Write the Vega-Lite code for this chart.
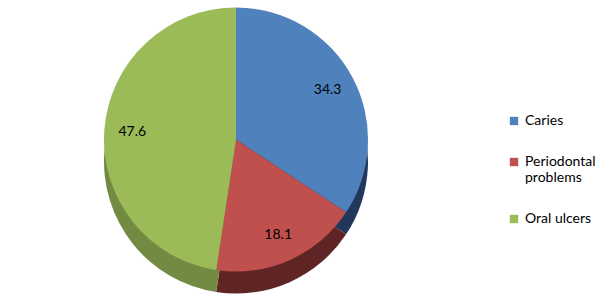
{
  "$schema": "https://vega.github.io/schema/vega-lite/v6.json",
  "width": 472,
  "height": 299,
  "autosize": "none",
  "padding": {"left": 0, "top": 0, "right": 128, "bottom": 0},
  "background": "white",
  "config": {"view": {"stroke": null}, "font": "Lato"},
  "data": {
    "values": [
      {"category": "Caries", "value": 34.3, "order": 1},
      {"category": "Periodontal problems", "value": 18.1, "order": 2},
      {"category": "Oral ulcers", "value": 47.6, "order": 3}
    ]
  },
  "encoding": {
    "theta": {"field": "value", "type": "quantitative", "stack": true},
    "order": {"field": "order", "type": "quantitative"}
  },
  "layer": [
    {
      "mark": {"type": "arc", "radius": 132, "yOffset": 12},
      "encoding": {
        "color": {
          "field": "category",
          "type": "nominal",
          "scale": {"domain": ["Caries", "Periodontal problems", "Oral ulcers"], "range": ["#22385A", "#5E2524", "#728A42"]},
          "legend": null
        }
      }
    },
    {
      "mark": {"type": "arc", "radius": 132, "yOffset": -10},
      "encoding": {
        "color": {
          "field": "category",
          "type": "nominal",
          "scale": {"domain": ["Caries", "Periodontal problems", "Oral ulcers"], "range": ["#4F81BD", "#C0504D", "#9BBB59"]},
          "legend": {
            "title": null,
            "orient": "none",
            "legendX": 507,
            "legendY": 114,
            "symbolType": "square",
            "symbolSize": 70,
            "labelFontSize": 14,
            "labelFont": "Lato",
            "labelColor": "#000000",
            "labelLineHeight": 17,
            "rowPadding": 27,
            "labelExpr": "datum.label == 'Periodontal problems' ? ['Periodontal', 'problems'] : datum.label"
          }
        }
      }
    },
    {
      "mark": {"type": "text", "radius": 104, "yOffset": -10, "fontSize": 14, "font": "Lato", "color": "#000000"},
      "encoding": {
        "text": {"field": "value", "type": "quantitative", "format": ".1f"}
      }
    }
  ],
  "resolve": {"scale": {"color": "independent"}}
}
